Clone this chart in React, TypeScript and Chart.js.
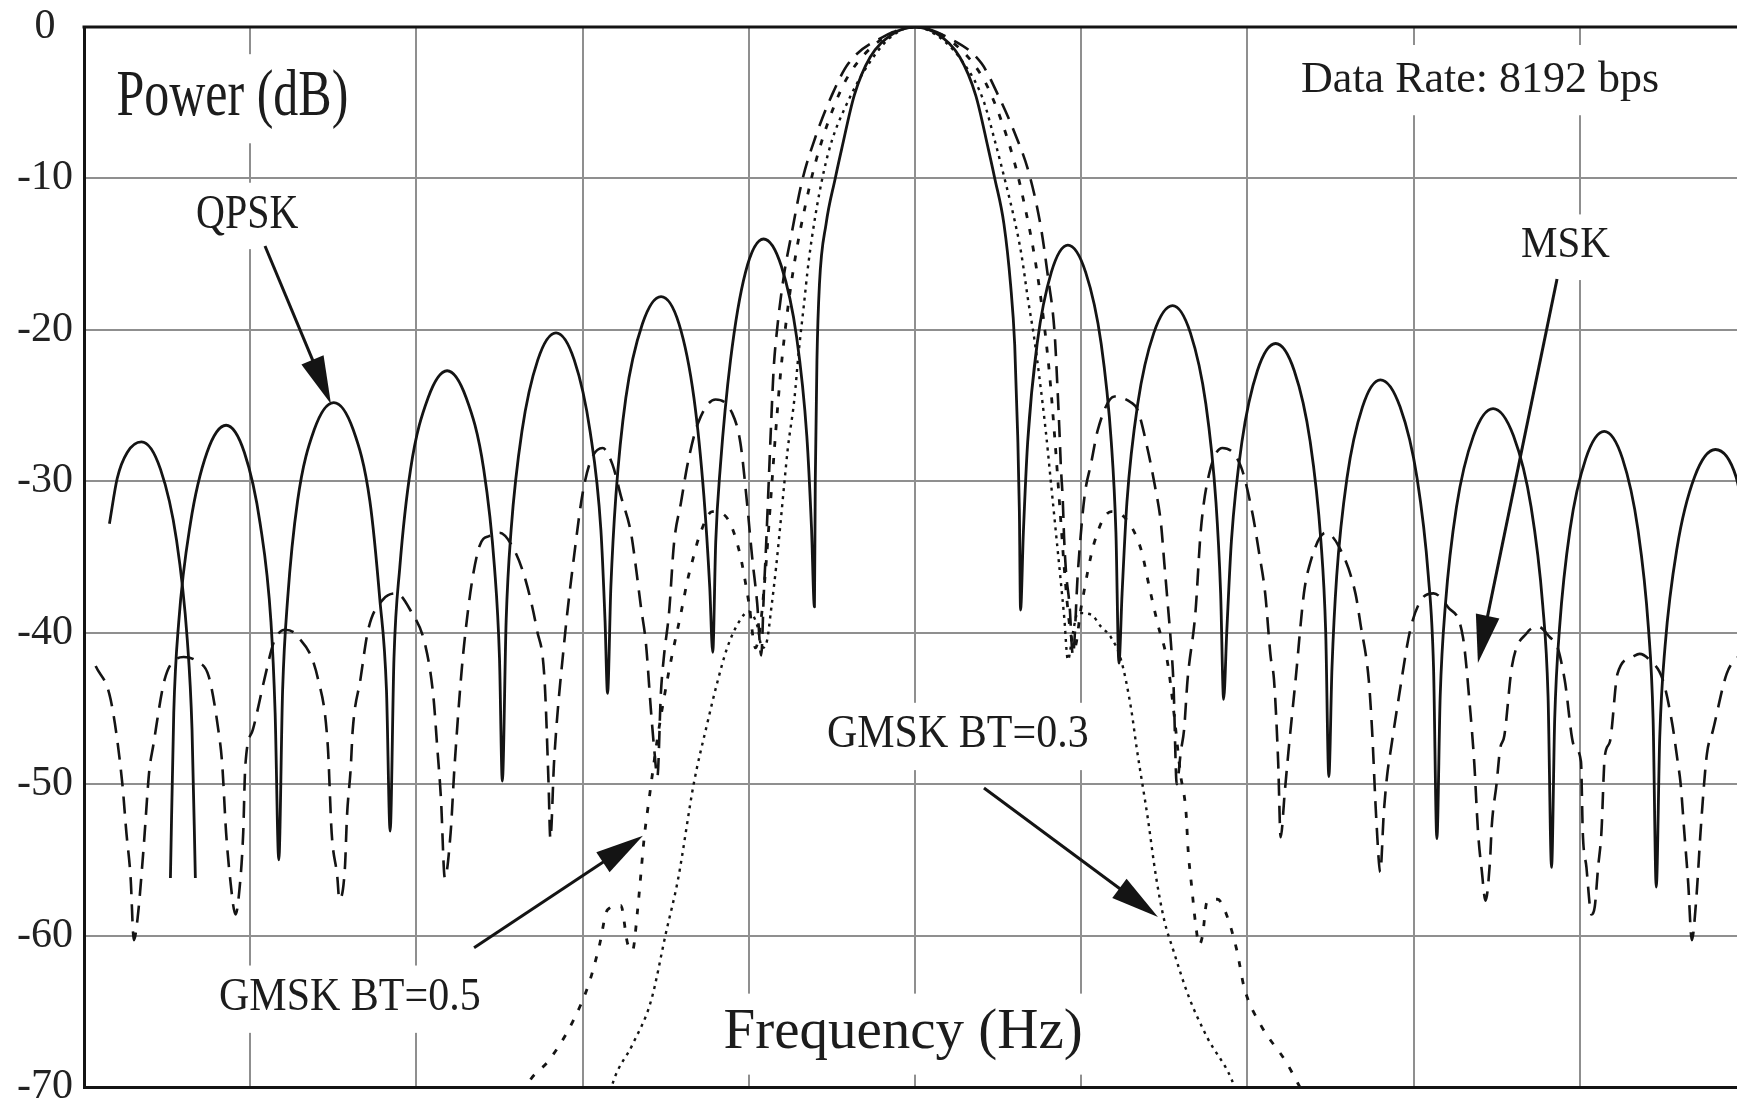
import React, { useEffect, useRef } from "react";
import { Chart, registerables } from "chart.js";

Chart.register(...registerables);

const SERIF = '"Liberation Serif", "Times New Roman", serif';

// ---------------- axes ----------------
const xMin = -5;
const xMax = 5;
const xStep = 1;
const yMin = -70;
const yMax = 0;
const yStep = 10;

// ---------------- QPSK (solid) ----------------
// short leftmost segment (overlaps the next lobe near -4.4)
const qpskEdgeFreq = [-4.847, -4.8, -4.74, -4.654, -4.54, -4.443, -4.379, -4.35, -4.33];
const qpskEdgePower = [-32.8, -29.8, -28.1, -27.4, -29.2, -33.9, -40.4, -46.4, -56.2];

const qpskFreq = [
  -4.48, -4.46, -4.43, -4.36, -4.26, -4.145, -4.035, -3.94, -3.875, -3.85,
  -3.828, -3.805, -3.775, -3.715, -3.615, -3.497, -3.38, -3.28, -3.22, -3.18,
  -3.158, -3.135, -3.1, -3.035, -2.93, -2.815, -2.7, -2.595, -2.53, -2.5,
  -2.483, -2.46, -2.43, -2.365, -2.27, -2.16, -2.05, -1.955, -1.89, -1.865,
  -1.85, -1.83, -1.8, -1.74, -1.64, -1.528, -1.42, -1.33, -1.27, -1.235,
  -1.217, -1.199, -1.171, -1.11, -1.02, -0.911, -0.804, -0.712, -0.651, -0.623,
  -0.605, -0.6, -0.59, -0.575, -0.535, -0.48, -0.44, -0.365, -0.27, -0.14,
  0, 0.14, 0.27, 0.365, 0.44, 0.48, 0.535, 0.575, 0.6, 0.618,
  0.628, 0.635, 0.652, 0.678, 0.735, 0.82, 0.92, 1.027, 1.12, 1.181,
  1.209, 1.227, 1.246, 1.275, 1.34, 1.437, 1.55, 1.657, 1.75, 1.811,
  1.839, 1.857, 1.876, 1.904, 1.967, 2.06, 2.17, 2.282, 2.378, 2.442,
  2.471, 2.49, 2.509, 2.537, 2.599, 2.692, 2.8, 2.919, 3.021, 3.089,
  3.12, 3.14, 3.16, 3.191, 3.258, 3.36, 3.478, 3.601, 3.707, 3.777,
  3.809, 3.83, 3.849, 3.878, 3.941, 4.036, 4.147, 4.257, 4.35, 4.413,
  4.441, 4.46, 4.481, 4.513, 4.585, 4.691, 4.816, 4.94, 5.0,
];
const qpskPower = [
  -56.2, -45.3, -39.3, -32.8, -28.1, -26.3, -28.1, -32.8, -39.3, -45.3,
  -55.0, -43.8, -37.8, -31.3, -26.6, -24.8, -26.6, -31.3, -37.8, -43.8,
  -53.1, -41.7, -35.7, -29.2, -24.5, -22.7, -24.5, -29.2, -35.7, -41.7,
  -49.8, -39.2, -33.2, -26.7, -22.0, -20.2, -22.0, -26.7, -33.2, -39.2,
  -44.0, -37.0, -31.0, -24.5, -19.6, -17.8, -19.6, -24.5, -31.0, -37.0,
  -41.3, -34.0, -29.0, -22.0, -16.2, -14.0, -15.8, -20.5, -27.0, -33.0,
  -38.3, -30.0, -22.0, -17.0, -13.0, -10.0, -8.0, -4.5, -2.0, -0.5,
  0, -0.5, -2.0, -4.5, -8.0, -10.0, -13.0, -17.0, -21.0, -27.0,
  -32.0, -38.5, -33.4, -27.4, -20.9, -16.2, -14.4, -16.2, -20.9, -27.4,
  -33.4, -42.0, -37.4, -31.4, -24.9, -20.2, -18.4, -20.2, -24.9, -31.4,
  -37.4, -44.4, -39.9, -33.9, -27.4, -22.7, -20.9, -22.7, -27.4, -33.9,
  -39.9, -49.5, -42.3, -36.3, -29.8, -25.1, -23.3, -25.1, -29.8, -36.3,
  -42.3, -53.6, -44.2, -38.2, -31.7, -27.0, -25.2, -27.0, -31.7, -38.2,
  -44.2, -55.5, -45.7, -39.7, -33.2, -28.5, -26.7, -28.5, -33.2, -39.7,
  -45.7, -56.8, -46.9, -40.9, -34.4, -29.7, -27.9, -29.7, -33.0,
];

// ---------------- MSK (dashed) ----------------
const mskFreq = [
  -4.93, -4.84, -4.77, -4.745, -4.72, -4.7,
  -4.677, -4.642, -4.607, -4.584, -4.515, -4.44, -4.4, -4.32, -4.249, -4.192, -4.169, -4.145, -4.122, -4.088,
  -4.065, -4.042, -4.03, -3.984, -3.915, -3.857, -3.79, -3.718, -3.591, -3.533, -3.51, -3.476, -3.464,
  -3.43, -3.418, -3.395, -3.383, -3.337, -3.29, -3.2, -3.12, -3.037, -2.945, -2.898, -2.875, -2.852, -2.829,
  -2.794, -2.771, -2.714, -2.621, -2.56, -2.5, -2.413, -2.344, -2.275, -2.229, -2.205, -2.194,
  -2.171, -2.113, -2.044, -2.0, -1.95, -1.88, -1.82, -1.769, -1.709, -1.679, -1.649, -1.619, -1.589, -1.569, -1.55,
  -1.529, -1.51, -1.48, -1.45, -1.408, -1.367, -1.307, -1.2, -1.1, -1.05, -1.01, -0.98, -0.95, -0.925,
  -0.91, -0.895, -0.88, -0.865, -0.85, -0.83, -0.79, -0.74, -0.68, -0.6, -0.5, -0.4, -0.2, 0,
  0.2, 0.4, 0.5, 0.6, 0.687, 0.757, 0.8, 0.84, 0.858, 0.868, 0.878, 0.889, 0.897, 0.908, 0.93, 0.95,
  0.98, 1.02, 1.06, 1.1, 1.2, 1.3, 1.34, 1.4, 1.44, 1.48, 1.5, 1.52, 1.54, 1.555, 1.575,
  1.6, 1.619, 1.64, 1.687, 1.72, 1.77, 1.85, 1.96, 2.03, 2.07, 2.107, 2.14, 2.16, 2.185, 2.2,
  2.225, 2.25, 2.29, 2.34, 2.37, 2.47, 2.55, 2.65, 2.68, 2.73, 2.75, 2.775, 2.8,
  2.82, 2.84, 2.866, 2.912, 2.98, 3.048, 3.12, 3.206, 3.297, 3.342, 3.365, 3.388, 3.41, 3.433,
  3.46, 3.47, 3.5, 3.52, 3.546, 3.592, 3.683, 3.75, 3.82, 3.864, 3.909, 3.966, 4.007, 4.018, 4.04, 4.063, 4.07,
  4.09, 4.11, 4.13, 4.15, 4.181, 4.227, 4.317, 4.36, 4.42, 4.499, 4.556, 4.59, 4.606, 4.629, 4.652, 4.674,
  4.7, 4.73, 4.765, 4.8, 4.884, 4.952, 5.0,
];
const mskPower = [
  -42.2, -44.4, -49.9, -53.2, -56.1, -60.3,
  -58.8, -54.3, -49.1, -47.5, -43.1, -41.7, -41.6, -41.9, -42.9, -46.4, -48.6, -53.2, -56.1, -58.6,
  -57.0, -53.2, -48.9, -46.4, -43.1, -40.6, -39.8, -40.2, -43.1, -47.5, -53.2, -56.1, -57.6,
  -55.5, -52.2, -48.9, -46.4, -43.1, -39.8, -37.8, -37.4, -38.5, -40.9, -44.2, -47.5, -51.0, -56.2,
  -53.2, -48.9, -40.9, -34.3, -33.6, -33.4, -34.5, -36.5, -39.8, -43.1, -49.9, -53.6,
  -48.4, -40.9, -34.3, -30.8, -28.6, -27.8, -28.9, -31.0, -33.4, -35.7, -38.3, -40.7, -45.1, -47.7, -49.5,
  -44.0, -41.5, -38.7, -34.1, -31.4, -28.8, -26.2, -24.6, -25.5, -27.5, -31.5, -35.0, -38.0, -41.5,
  -37.5, -34.0, -30.0, -26.0, -22.5, -20.0, -16.5, -13.5, -10.2, -7.3, -4.5, -2.4, -0.7, 0,
  -0.7, -2.4, -4.5, -7.0, -9.7, -13.2, -16.5, -20.2, -24.0, -26.4, -29.1, -31.2, -33.7, -35.9, -38.2, -41.5,
  -36.0, -31.0, -28.8, -26.6, -24.4, -24.8, -25.3, -27.9, -30.1, -32.8, -35.4, -38.0, -40.7, -43.3, -50.0,
  -47.8, -46.4, -43.1, -38.7, -33.2, -29.5, -27.8, -29.0, -32.1, -34.7, -37.4, -41.6, -43.1, -48.5, -53.5,
  -50.5, -47.5, -43.1, -37.4, -35.7, -33.4, -34.3, -37.4, -39.4, -43.1, -46.4, -52.2, -55.8,
  -52.0, -49.5, -47.5, -44.2, -39.8, -37.8, -37.4, -38.3, -40.3, -45.3, -48.6, -53.2, -55.7, -57.7,
  -55.0, -52.8, -49.9, -47.7, -46.8, -42.2, -40.0, -39.6, -40.3, -40.9, -43.1, -47.5, -48.5, -53.2, -55.5, -58.3, -58.6,
  -58.1, -55.5, -53.2, -48.2, -47.2, -42.7, -41.6, -41.4, -41.8, -43.1, -46.0, -48.6, -49.9, -53.2, -56.5, -60.3,
  -57.7, -52.6, -48.0, -46.5, -42.7, -41.6, -41.3,
];

// ---------------- GMSK BT=0.5 (sparse dashes) ----------------
const gmsk05Freq = [
  -2.36, -2.313, -2.207, -2.06, -1.96, -1.9, -1.85, -1.77, -1.73, -1.7,
  -1.669, -1.649, -1.629, -1.6, -1.55, -1.48, -1.408, -1.368, -1.338, -1.3,
  -1.22, -1.14, -1.06, -1.0, -0.96, -0.93, -0.9, -0.87, -0.84, -0.81,
  -0.77, -0.72, -0.66, -0.6, -0.5, -0.4, -0.2, 0,
  0.2, 0.4, 0.5, 0.6, 0.66, 0.72, 0.77, 0.81, 0.84, 0.87,
  0.9, 0.93, 0.96, 1.0, 1.08, 1.18, 1.27, 1.36, 1.41, 1.46,
  1.52, 1.56, 1.597, 1.631, 1.643, 1.665, 1.688, 1.71, 1.73, 1.756,
  1.82, 1.87, 1.937, 1.98, 2.08, 2.23, 2.34,
];
const gmsk05Power = [
  -70.5, -69.5, -68.3, -65.7, -63.1, -60.7, -58.3, -58.0, -60.5, -61.0,
  -58.3, -55.9, -53.5, -51.0, -47.0, -42.5, -38.7, -36.5, -35.2, -33.7,
  -32.0, -32.3, -34.5, -38.0, -41.0, -39.5, -36.0, -31.5, -27.0, -23.0,
  -19.0, -15.2, -11.8, -9.0, -5.6, -3.2, -0.8, 0,
  -0.8, -3.2, -5.6, -9.0, -11.8, -15.2, -19.0, -23.0, -27.0, -31.5,
  -36.0, -39.5, -41.0, -38.3, -34.0, -32.0, -32.5, -34.5, -37.0, -39.4,
  -42.0, -45.5, -49.3, -51.9, -54.3, -56.8, -59.2, -60.6, -60.0, -57.8,
  -57.6, -58.5, -61.0, -63.4, -65.9, -68.3, -70.5,
];

// ---------------- GMSK BT=0.3 (dotted) ----------------
const gmsk03Freq = [
  -1.83, -1.817, -1.7, -1.588, -1.498, -1.426, -1.33, -1.25, -1.19, -1.13,
  -1.06, -1.0, -0.95, -0.92, -0.89, -0.866, -0.836, -0.806, -0.786, -0.766,
  -0.726, -0.7, -0.67, -0.64, -0.6, -0.55, -0.5, -0.42, -0.3, -0.15, 0,
  0.15, 0.3, 0.41, 0.48, 0.55, 0.6, 0.64, 0.68, 0.718, 0.748,
  0.788, 0.818, 0.848, 0.878, 0.898, 0.92, 0.95, 0.979, 1.059, 1.119,
  1.179, 1.24, 1.3, 1.335, 1.4, 1.45, 1.5, 1.555, 1.646, 1.757, 1.905, 1.93,
];
const gmsk03Power = [
  -70.3, -69.7, -67.2, -64.3, -59.8, -56.3, -49.9, -46.0, -43.3, -41.0,
  -39.3, -38.6, -39.5, -41.0, -40.5, -38.5, -35.7, -32.4, -30.1, -27.9,
  -24.6, -21.5, -18.5, -15.5, -12.5, -9.6, -7.5, -5.3, -2.8, -0.7, 0,
  -0.7, -2.5, -4.8, -7.5, -10.5, -12.8, -15.0, -18.0, -20.6, -23.1,
  -26.8, -30.1, -33.4, -36.7, -39.0, -41.8, -40.0, -38.7, -38.8, -39.6,
  -40.3, -41.8, -45.0, -47.7, -52.2, -56.1, -59.0, -61.0, -64.0, -66.7, -69.5, -70.3,
];

// ---------------- annotations (positions in data units) ----------------
const textLabels = [
  { text: "Power (dB)", u: -4.805, db: -5.81, size: 50, sy: 1.3 },
  { text: "QPSK", u: -4.326, db: -13.27, size: 40, sy: 1.2 },
  { text: "Data Rate: 8192 bps", u: 2.323, db: -4.29, size: 44, sy: 1.03 },
  { text: "MSK", u: 3.646, db: -15.19, size: 41, sy: 1.1 },
  { text: "GMSK BT=0.3", u: -0.53, db: -47.55, size: 42, sy: 1.08 },
  { text: "GMSK BT=0.5", u: -4.188, db: -64.9, size: 42, sy: 1.08 },
  { text: "Frequency (Hz)", u: -1.152, db: -67.4, size: 57, sy: 1.0 },
];

const arrowSpecs = [
  { from: [-3.911, -14.46], to: [-3.514, -24.9] },
  { from: [3.863, -16.64], to: [3.387, -42.0] },
  { from: [0.415, -50.25], to: [1.462, -58.77] },
  { from: [-2.653, -60.8], to: [-1.637, -53.4] },
];

const toPoints = (xs: number[], ys: number[]) => {
  const n = Math.min(xs.length, ys.length);
  const out: { x: number; y: number }[] = [];
  for (let i = 0; i < n; i++) out.push({ x: xs[i], y: ys[i] });
  return out;
};

const INK = "#141414";
const GRID = "#8f8f8f";

function labelBox(ctx: CanvasRenderingContext2D, l: any, px: number, py: number) {
  ctx.font = `${l.size}px ${SERIF}`;
  const m = ctx.measureText(l.text);
  const asc = (m.actualBoundingBoxAscent || l.size * 0.7) * l.sy;
  const desc = (m.actualBoundingBoxDescent || l.size * 0.2) * l.sy;
  const padX = 12;
  const padY = 14;
  return { x: px - padX, y: py - asc - padY, w: m.width + 2 * padX, h: asc + desc + 2 * padY };
}

const annotationPlugin = {
  id: "psdAnnotations",
  beforeDatasetsDraw(chart: any) {
    const { ctx, scales } = chart;
    ctx.save();
    ctx.fillStyle = "#ffffff";
    for (const l of textLabels) {
      const px = scales.x.getPixelForValue(l.u);
      const py = scales.y.getPixelForValue(l.db);
      const b = labelBox(ctx, l, px, py);
      ctx.fillRect(b.x, b.y, b.w, b.h);
    }
    ctx.restore();
  },
  afterDraw(chart: any) {
    const { ctx, scales, chartArea } = chart;
    ctx.save();
    // top frame line
    ctx.strokeStyle = INK;
    ctx.lineWidth = 3;
    ctx.beginPath();
    ctx.moveTo(chartArea.left - 1.5, chartArea.top);
    ctx.lineTo(chartArea.right, chartArea.top);
    ctx.stroke();

    // arrows
    for (const a of arrowSpecs) {
      const x0 = scales.x.getPixelForValue(a.from[0]);
      const y0 = scales.y.getPixelForValue(a.from[1]);
      const x1 = scales.x.getPixelForValue(a.to[0]);
      const y1 = scales.y.getPixelForValue(a.to[1]);
      const dx = x1 - x0;
      const dy = y1 - y0;
      const len = Math.hypot(dx, dy);
      const ux = dx / len;
      const uy = dy / len;
      const headLen = 48;
      const headHalf = 12;
      const bx = x1 - ux * headLen;
      const by = y1 - uy * headLen;
      ctx.strokeStyle = INK;
      ctx.lineWidth = 3;
      ctx.beginPath();
      ctx.moveTo(x0, y0);
      ctx.lineTo(bx + ux * 4, by + uy * 4);
      ctx.stroke();
      ctx.fillStyle = INK;
      ctx.beginPath();
      ctx.moveTo(x1, y1);
      ctx.lineTo(bx - uy * headHalf, by + ux * headHalf);
      ctx.lineTo(bx + uy * headHalf, by - ux * headHalf);
      ctx.closePath();
      ctx.fill();
    }

    // texts
    ctx.fillStyle = "#1c1c1c";
    ctx.textAlign = "left";
    ctx.textBaseline = "alphabetic";
    for (const l of textLabels) {
      const px = scales.x.getPixelForValue(l.u);
      const py = scales.y.getPixelForValue(l.db);
      ctx.save();
      ctx.font = `${l.size}px ${SERIF}`;
      ctx.translate(px, py);
      ctx.scale(1, l.sy);
      ctx.fillText(l.text, 0, 0);
      ctx.restore();
    }
    ctx.restore();
  },
};

const lineStyle = (dash: number[], width: number) => ({
  borderColor: INK,
  backgroundColor: INK,
  borderWidth: width,
  borderDash: dash,
  pointRadius: 0,
  fill: false,
  cubicInterpolationMode: "monotone" as const,
  borderCapStyle: "butt" as const,
  borderJoinStyle: "round" as const,
});

export default function App() {
  const canvasRef = useRef<HTMLCanvasElement | null>(null);

  useEffect(() => {
    const canvas = canvasRef.current;
    if (!canvas) return;
    Chart.defaults.font.family = SERIF;
    const chart = new Chart(canvas, {
      type: "line",
      data: {
        datasets: [
          { label: "QPSK", data: toPoints(qpskFreq, qpskPower), ...lineStyle([], 2.8) },
          { label: "QPSK edge", data: toPoints(qpskEdgeFreq, qpskEdgePower), ...lineStyle([], 2.8) },
          { label: "MSK", data: toPoints(mskFreq, mskPower), ...lineStyle([17, 10], 2.6) },
          { label: "GMSK BT=0.5", data: toPoints(gmsk05Freq, gmsk05Power), ...lineStyle([6, 11], 2.8) },
          { label: "GMSK BT=0.3", data: toPoints(gmsk03Freq, gmsk03Power), ...lineStyle([3, 5], 2.4) },
        ],
      },
      options: {
        responsive: false,
        animation: false,
        events: [],
        layout: { padding: { top: 27, right: 6, bottom: 0, left: 0 } },
        plugins: {
          legend: { display: false },
          tooltip: { enabled: false },
        },
        scales: {
          x: {
            type: "linear",
            min: xMin,
            max: xMax,
            ticks: { display: false, stepSize: xStep },
            grid: { color: GRID, lineWidth: 2, drawTicks: false },
            border: { display: true, color: INK, width: 3 },
            afterFit: (s: any) => {
              s.height = 16;
              s.paddingLeft = 0;
              s.paddingRight = 0;
            },
          },
          y: {
            type: "linear",
            min: yMin,
            max: yMax,
            ticks: {
              stepSize: yStep,
              color: "#222",
              font: { family: SERIF, size: 42 },
              padding: 11,
              crossAlign: "center",
            },
            grid: { color: GRID, lineWidth: 2, drawTicks: false },
            border: { display: true, color: INK, width: 3 },
            afterFit: (s: any) => {
              s.width = 84;
              s.paddingTop = 0;
              s.paddingBottom = 0;
            },
          },
        },
      } as any,
      plugins: [annotationPlugin],
    });
    return () => chart.destroy();
  }, []);

  return (
    <div
      style={{
        position: "fixed",
        left: 0,
        top: 0,
        width: 1737,
        height: 1103,
        overflow: "hidden",
        background: "#ffffff",
      }}
    >
      <canvas
        ref={canvasRef}
        width={1752}
        height={1103}
        style={{ display: "block", width: 1752, height: 1103 }}
      />
    </div>
  );
}
